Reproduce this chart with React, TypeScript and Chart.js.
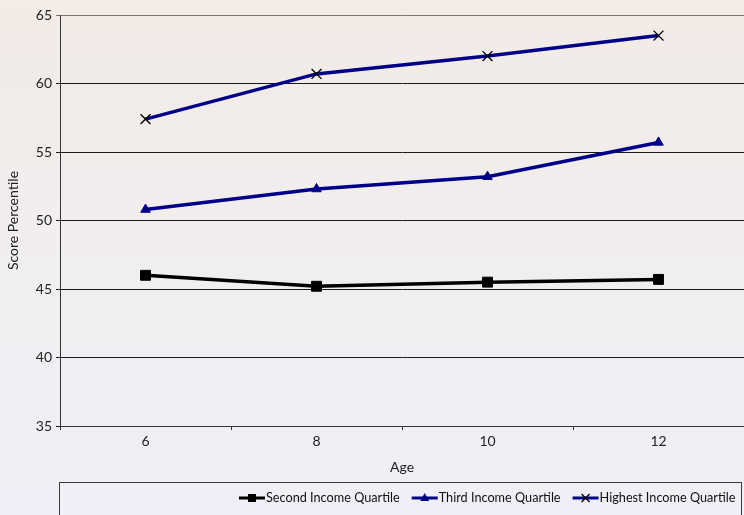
import { useEffect, useRef } from 'react';
import { Chart, registerables } from 'chart.js';

Chart.register(...registerables);

const ages = ['6', '8', '10', '12'];
const secondQuartile = [46.0, 45.2, 45.5, 45.7];
const thirdQuartile = [50.8, 52.3, 53.2, 55.7];
const highestQuartile = [57.4, 60.7, 62.0, 63.5];
const seriesNames = ['Second Income Quartile', 'Third Income Quartile', 'Highest Income Quartile'];

const NAVY = '#000088';
const FONT = 'Lato';

// Draws one legend sample: a short thick line with the series marker on top
function drawSample(ctx: CanvasRenderingContext2D, ds: any, x1: number, x2: number, y: number) {
  ctx.save();
  ctx.strokeStyle = ds.borderColor;
  ctx.lineWidth = 3;
  ctx.beginPath();
  ctx.moveTo(x1, y);
  ctx.lineTo(x2, y);
  ctx.stroke();
  const cx = (x1 + x2) / 2;
  ctx.fillStyle = ds.pointBackgroundColor;
  ctx.strokeStyle = ds.pointBorderColor;
  ctx.lineWidth = ds.pointBorderWidth;
  if (ds.pointStyle === 'rect') {
    ctx.fillRect(cx - 4, y - 4, 8, 8);
  } else if (ds.pointStyle === 'triangle') {
    ctx.beginPath();
    ctx.moveTo(cx, y - 5);
    ctx.lineTo(cx + 4.5, y + 3);
    ctx.lineTo(cx - 4.5, y + 3);
    ctx.closePath();
    ctx.fill();
  } else {
    ctx.beginPath();
    ctx.moveTo(cx - 4, y - 4);
    ctx.lineTo(cx + 4, y + 4);
    ctx.moveTo(cx + 4, y - 4);
    ctx.lineTo(cx - 4, y + 4);
    ctx.stroke();
  }
  ctx.restore();
}

// Boxed legend under the axis, entries aligned to the right
const boxLegend = {
  id: 'boxLegend',
  afterDraw(chart: any) {
    const ctx: CanvasRenderingContext2D = chart.ctx;
    const top = 482.5;
    const left = 59.5;
    const right = 741.5;
    ctx.save();
    ctx.strokeStyle = '#3a3a3a';
    ctx.lineWidth = 1;
    ctx.strokeRect(left, top, right - left, 60);
    ctx.font = `12.7px ${FONT}`;
    ctx.textBaseline = 'middle';
    ctx.textAlign = 'left';
    const y = 498;
    let x = right - 6;
    const list = chart.data.datasets.slice().reverse();
    for (const ds of list) {
      const tw = ctx.measureText(ds.label).width;
      const tx = x - tw;
      ctx.fillStyle = '#111';
      ctx.fillText(ds.label, tx, y);
      const m2 = tx - 1;
      const m1 = m2 - 26;
      drawSample(ctx, ds, m1, m2, y);
      x = m1 - 12;
    }
    ctx.restore();
  },
};

export default function App() {
  const ref = useRef<HTMLCanvasElement>(null);

  useEffect(() => {
    if (!ref.current) return;
    const chart = new Chart(ref.current, {
      type: 'line',
      data: {
        labels: ages,
        datasets: [
          {
            label: seriesNames[0],
            data: secondQuartile,
            borderColor: '#000000',
            borderWidth: 3.5,
            pointStyle: 'rect',
            pointRadius: 7,
            pointBackgroundColor: '#000000',
            pointBorderColor: '#000000',
            pointBorderWidth: 1,
          },
          {
            label: seriesNames[1],
            data: thirdQuartile,
            borderColor: NAVY,
            borderWidth: 3.5,
            pointStyle: 'triangle',
            pointRadius: 5.5,
            pointBackgroundColor: NAVY,
            pointBorderColor: NAVY,
            pointBorderWidth: 1,
          },
          {
            label: seriesNames[2],
            data: highestQuartile,
            borderColor: NAVY,
            borderWidth: 3.5,
            pointStyle: 'crossRot',
            pointRadius: 7,
            pointBackgroundColor: '#000000',
            pointBorderColor: '#000000',
            pointBorderWidth: 1.3,
          },
        ],
      },
      options: {
        responsive: false,
        animation: false,
        devicePixelRatio: 1,
        layout: { autoPadding: false, padding: { top: 15, right: 0, bottom: 33, left: 0 } },
        plugins: {
          legend: { display: false },
          tooltip: { enabled: false },
        },
        scales: {
          x: {
            offset: true,
            afterFit(scale: any) {
              scale.height = 56;
              scale.paddingLeft = 0;
              scale.paddingRight = 0;
            },
            grid: {
              offset: true,
              drawOnChartArea: false,
              drawTicks: true,
              tickLength: 4,
              color: '#333',
            },
            border: { display: true, color: '#333', width: 1 },
            ticks: {
              color: '#222',
              font: { family: FONT, size: 14 },
              padding: 3,
            },
            title: {
              display: true,
              text: 'Age',
              color: '#222',
              font: { family: FONT, size: 14 },
              padding: { top: 4, bottom: 6 },
            },
          },
          y: {
            min: 35,
            max: 65,
            afterFit(scale: any) {
              scale.width = 60;
            },
            ticks: {
              stepSize: 5,
              color: '#222',
              font: { family: FONT, size: 14 },
              padding: 4,
            },
            grid: {
              color: (c: any) => (c.tick && c.tick.value === 65 ? '#777' : '#1a1a1a'),
              tickLength: 4,
              lineWidth: 1,
            },
            border: { display: true, color: '#333', width: 1 },
            title: {
              display: true,
              text: 'Score Percentile',
              color: '#222',
              font: { family: FONT, size: 14 },
              padding: { top: 5, bottom: 4 },
            },
          },
        },
      },
      plugins: [boxLegend],
    });
    return () => chart.destroy();
  }, []);

  return (
    <div
      style={{
        position: 'absolute',
        left: 0,
        top: 0,
        width: 744,
        height: 515,
        overflow: 'hidden',
        background: 'linear-gradient(to bottom, #f2ebe6 0%, #f1eeef 50%, #f0eff7 100%)',
      }}
    >
      <canvas ref={ref} width={744} height={515} style={{ display: 'block', width: 744, height: 515 }} />
    </div>
  );
}
